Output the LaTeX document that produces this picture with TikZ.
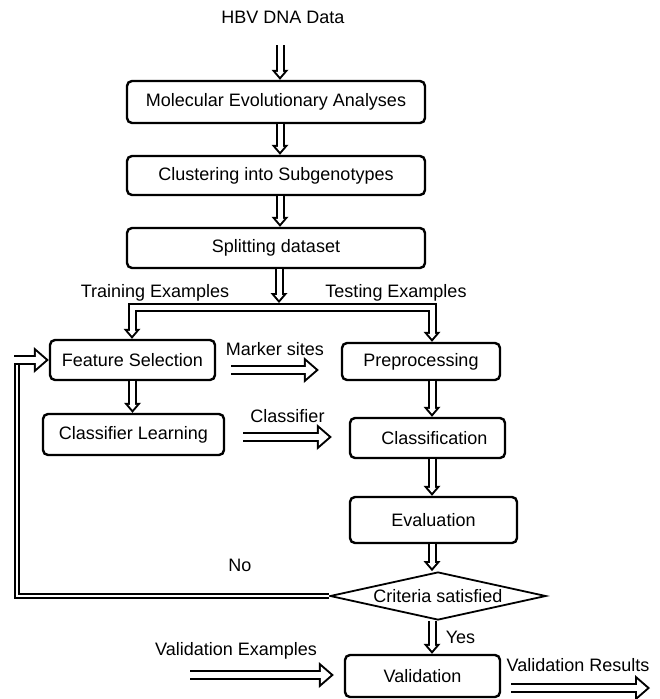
\documentclass[tikz,border=0pt]{standalone}
\usepackage{fontspec}
\setmainfont{Liberation Sans}
\usetikzlibrary{arrows.meta,shapes.geometric}
\tikzstyle{stepbox}=[draw=black, line width=2.4pt, rounded corners=5pt, font=\fontsize{18}{20}\selectfont, inner sep=0pt]
\tikzstyle{lbl}=[font=\fontsize{18}{20}\selectfont]
\tikzstyle{blockarrow}=[draw=white, line width=5pt, shorten >=3.1pt, -{Triangle[length=4.9pt, width=8.3pt, line width'=0pt]}, preaction={draw=black, line width=9pt, shorten >=0pt, -{Triangle[length=10pt, width=17pt, line width'=0pt]}}]
\tikzstyle{forkarrow}=[draw=white, line width=5pt, miter limit=10, shorten >=3.1pt, shorten <=3.1pt, {Triangle[length=4.9pt, width=8.3pt, line width'=0pt]}-{Triangle[length=4.9pt, width=8.3pt, line width'=0pt]}, preaction={draw=black, line width=9pt, miter limit=10, shorten >=0pt, shorten <=0pt, {Triangle[length=10pt, width=17pt, line width'=0pt]}-{Triangle[length=10pt, width=17pt, line width'=0pt]}}]
\tikzstyle{widearrow}=[draw=white, line width=6pt, shorten >=3.1pt, -{Triangle[length=9.9pt, width=17.2pt, line width'=0pt]}, preaction={draw=black, line width=10pt, shorten >=0pt, -{Triangle[length=15pt, width=26pt, line width'=0pt]}}]
\tikzstyle{dline}=[double, double distance=2.5pt, line width=1.6pt]

\begin{document}
\begin{tikzpicture}[x=1pt, y=-1pt]
				\useasboundingbox (0,0) rectangle (659,699);
				% main column
				\node[lbl] (data) at (283,17) {HBV DNA Data};
				\node[stepbox, minimum width=298pt, minimum height=42pt] (mea) at (276,102) {Molecular Evolutionary Analyses};
				\node[stepbox, minimum width=298pt, minimum height=39pt] (clu) at (276,175.5) {Clustering into Subgenotypes};
				\node[stepbox, minimum width=298pt, minimum height=40pt] (spl) at (276,248) {Splitting dataset};
				% training side
				\node[stepbox, minimum width=165pt, minimum height=40pt] (fs) at (132.5,360) {Feature Selection};
				\node[stepbox, minimum width=181pt, minimum height=41pt] (cl) at (133.5,434.5) {Classifier Learning};
				% testing side
				\node[stepbox, minimum width=158pt, minimum height=37pt] (pre) at (421,361.5) {Preprocessing};
				\node[stepbox, minimum width=155pt, minimum height=40pt] (cls) at (427.5,438) {\hspace{14pt}Classification};
				\node[stepbox, minimum width=167pt, minimum height=46pt] (ev) at (433.5,520) {Evaluation};
				\node[diamond, draw=black, line width=1.8pt, aspect=4.5, minimum width=216pt, minimum height=48pt, inner sep=0pt, font=\fontsize{18}{20}\selectfont] (crit) at (438,596) {Criteria satisfied};
				\node[stepbox, minimum width=155pt, minimum height=42pt] (val) at (422.5,676) {Validation};
				% helper points
				\coordinate (top) at (280,0);
				\coordinate (col) at (432,0);
				\coordinate (split) at (279,303);
				\coordinate (lt) at (132,307);
				\coordinate (rt) at (432,307);
				\coordinate (back) at (17,360);
				\coordinate (hbv) at (280,45);
				\coordinate (ms1) at ([shift={(15,10)}]fs.east);
				\coordinate (ms2) at (ms1 -| pre.west);
				\coordinate (cf1) at ([shift={(18,2.5)}]cl.east);
				\coordinate (cf2) at (cf1 -| cls.west);
				\coordinate (ve1) at (190,675);
				\coordinate (ve2) at (ve1 -| val.west);
				\coordinate (vr1) at ([shift={(10,12)}]val.east);
				\coordinate (vr2) at (650,688);
				% arrows
				\draw[blockarrow] (hbv) -- (mea.north -| top);
				\draw[blockarrow] (mea.south -| top) -- (clu.north -| top);
				\draw[blockarrow] (clu.south -| top) -- (spl.north -| top);
				\draw[forkarrow] (fs.north -| lt) -- (lt) -- (rt) -- (pre.north -| rt);
				\draw[blockarrow] (spl.south -| split) -- (split);
				\node[lbl] (train) at (155,293) {Training Examples};
				\node[lbl] (test) at (396,293) {Testing Examples};
				\draw[blockarrow] (fs) -- (cl.north -| fs);
				\draw[blockarrow] (pre.south -| col) -- (cls.north -| col);
				\draw[blockarrow] (cls.south -| col) -- (ev.north -| col);
				\draw[blockarrow] (ev.south -| col) -- (crit.north -| col);
				\draw[blockarrow] (crit.south -| col) -- node[lbl, right=8pt]{Yes} (val.north -| col);
				\draw[widearrow] (ms1) -- node[lbl, above=8pt]{Marker sites} ([xshift=-22pt]ms2);
				\draw[widearrow] (cf1) -- node[lbl, above=8pt]{Classifier} ([xshift=-17pt]cf2);
				\draw[widearrow] (ve1) -- ([xshift=-10pt]ve2);
				\node[lbl] (vex) at (236,651) {Validation Examples};
				\draw[widearrow] (vr1) -- (vr2);
				\node[lbl] (vres) at (578,665) {Validation Results};
				% feedback loop
				\draw[dline] (crit.west) -| (back);
				\draw[widearrow] ([xshift=-3pt]back) -- (fs.west);
				\node[lbl] (no) at (240,565) {No};
			\end{tikzpicture}
\end{document}
